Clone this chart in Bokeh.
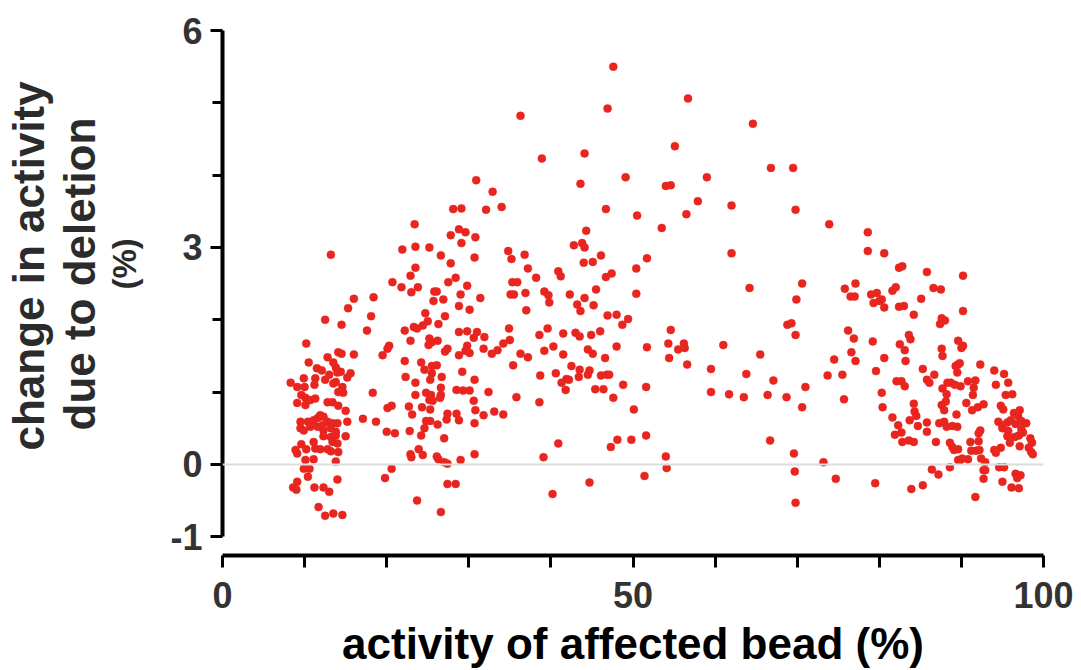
from bokeh.plotting import figure
from bokeh.models import Range1d, FixedTicker, Span, Title
from bokeh.embed import file_html
from bokeh.resources import INLINE

# activity of affected bead (%)
activity = [
    13.2, 16.0, 15.3, 12.5, 14.5, 10.2, 14.1, 14.5, 12.8, 16.0, 10.5, 13.5, 13.8, 11.5, 12.1, 14.0,
    14.4, 13.0, 15.6, 8.3, 9.9, 9.1, 10.0, 11.3, 11.2, 12.5, 13.8, 13.5, 15.2, 14.6, 14.1, 14.7,
    9.6, 10.1, 10.7, 11.3, 9.1, 10.1, 12.8, 13.4, 14.1, 15.0, 11.9, 12.3, 11.6, 9.5, 10.4, 11.1,
    12.8, 13.4, 14.0, 15.2, 9.5, 10.7, 9.9, 11.6, 12.2, 12.3, 13.2, 13.8, 12.3, 13.2, 13.8, 15.0,
    11.1, 13.4, 14.0, 9.6, 8.9, 10.2, 11.3, 11.9, 12.8, 13.2, 14.1, 9.1, 10.1, 11.1, 13.8, 9.9,
    10.6, 10.4, 14.0, 9.1, 8.6, 9.0, 11.2, 12.3, 13.0, 11.7, 12.5, 13.5, 14.6,
    28.1, 29.1, 23.4, 28.8, 29.6, 27.8, 29.1, 21.9, 23.5, 25.2, 26.6, 27.8, 23.5, 22.9, 28.4, 27.5,
    20.7, 21.8, 23.8, 23.0, 29.8, 25.8, 26.1, 29.0, 18.4, 25.7, 26.9, 28.8, 30.1, 24.7, 18.1, 27.1,
    25.0, 24.4, 26.3, 23.3, 23.7, 17.6, 22.2, 28.8, 29.8, 22.9, 25.2, 25.5, 26.2, 25.1, 29.8, 29.6,
    30.1, 20.3, 20.1, 27.4, 27.1, 19.5, 28.8, 22.2, 24.2, 24.6, 25.5, 26.1, 25.5, 25.3, 29.2, 22.3,
    26.7, 23.5, 26.6, 26.6, 26.5, 28.5, 29.3, 30.1, 24.8, 23.5, 18.3, 25.4, 25.2, 25.6, 20.1, 20.6,
    22.7, 24.3, 25.3, 23.1, 27.4, 27.3, 28.5, 28.8, 17.1, 18.7, 24.8, 25.3, 26.2, 24.6, 20.0, 21.0,
    22.8, 24.2, 27.0, 23.9, 22.9, 23.0, 24.4, 26.1, 26.3, 27.0, 27.4, 29.0, 20.6, 19.8, 27.4, 28.4,
    23.7, 26.6,
    36.3, 38.9, 44.1, 43.6, 30.9, 32.9, 32.1, 34.0, 30.8, 30.7, 44.3, 42.8, 43.8, 44.1, 44.0, 45.1,
    46.1, 34.8, 35.2, 36.8, 37.2, 38.2, 40.9, 41.2, 35.3, 35.9, 35.1, 35.5, 36.9, 39.2, 39.7, 39.8,
    42.3, 45.5, 44.1, 31.4, 37.0, 43.2, 43.6, 45.2, 30.6, 31.0, 31.9, 34.9, 35.0, 31.8, 32.8, 33.5,
    34.2, 38.6, 39.6, 41.5, 43.0, 43.5, 44.9, 46.0, 39.2, 40.3, 36.3, 37.2, 41.5, 44.5, 45.1, 46.6,
    35.4, 42.5, 43.5, 44.7, 38.7, 40.6, 43.4, 44.5, 46.1, 30.7, 41.9, 42.2, 41.3, 41.8, 45.4, 46.4,
    30.6, 32.4, 35.8, 38.6, 30.8, 31.8, 33.1, 34.2, 30.7, 40.9, 30.7, 39.1, 44.7, 40.2,
    47.6, 56.7, 46.9, 55.1, 49.1, 54.0, 54.6, 59.0, 46.7, 50.5, 53.5, 56.5, 57.9, 62.0, 62.0, 51.7,
    50.4, 46.7, 47.4, 50.4, 46.9, 48.0, 49.4, 48.7, 54.6, 48.0, 51.7, 54.3, 55.5, 56.2, 56.3, 61.0,
    54.4, 56.6, 59.5, 46.8, 47.1, 48.8, 51.6, 47.6, 59.5, 61.7, 50.1, 47.3, 48.1, 49.8, 51.6, 54.0,
    54.1, 51.4, 64.6,
    66.8, 69.5, 69.8, 73.9, 78.6, 78.6, 80.6, 64.2, 70.6, 69.9, 75.8, 77.1, 76.5, 77.0, 79.0, 79.7,
    79.3, 80.0, 80.3, 80.6, 68.8, 69.3, 69.8, 76.2, 76.9, 79.2, 65.5, 74.5, 76.6, 77.1, 80.6, 63.8,
    67.1, 73.7, 75.5, 79.6, 71.0, 63.5, 66.4, 68.7, 70.6, 75.7, 80.3, 80.4, 66.7, 69.6, 73.2, 69.7,
    74.7, 79.5, 69.8,
    82.4, 82.8, 85.8, 90.2, 81.6, 82.0, 86.6, 87.5, 82.4, 83.0, 85.1, 84.2, 90.2, 87.6, 88.0, 87.4,
    83.6, 83.8, 82.5, 83.1, 83.2, 89.6, 90.0, 90.2, 87.6, 87.7, 89.3, 89.6, 89.5, 89.8, 85.3, 86.7,
    82.1, 82.7, 83.1, 85.8, 86.1, 88.3, 88.7, 89.2, 89.9, 87.7, 88.2, 84.2, 87.6, 88.1, 87.9, 84.3,
    84.5, 89.4, 81.6, 83.7, 82.3, 84.7, 85.8, 87.3, 87.9, 88.2, 88.9, 89.5, 81.9, 82.7, 85.8, 82.8,
    83.6, 84.2, 86.9, 88.6, 88.9, 89.1, 89.6, 89.6, 89.8, 86.4, 88.6, 87.2, 83.9, 85.3,
    92.3, 94.0, 95.2, 90.8, 91.7, 91.5, 91.4, 94.2, 95.7, 95.4, 96.2, 90.6, 91.3, 92.0, 92.7, 94.8,
    95.1, 96.4, 97.1, 96.9, 94.5, 95.0, 95.6, 96.0, 96.6, 97.3, 97.9, 95.0, 95.7, 97.3, 97.5, 97.0,
    92.3, 92.1, 95.6, 96.5, 98.4, 98.6, 98.2, 98.5, 98.7, 91.1, 92.1, 91.2, 91.8, 92.2, 94.0, 94.2,
    94.8, 95.9, 97.1, 90.1, 90.8, 92.4, 92.9, 94.6, 95.2, 92.7, 92.9, 96.6, 97.2, 96.8, 92.7, 95.0,
    96.1, 97.0, 91.7,
]

# change in activity due to deletion (%)
change = [
    2.90, 2.29, 2.16, 2.00, 1.93, 1.67, 1.55, 1.53, 1.48, 1.52, 1.41, 1.41, 1.34, 1.33, 1.30, 1.27,
    1.28, 1.24, 1.26, 1.13, 1.19, 1.07, 1.07, 1.19, 1.10, 1.17, 1.14, 1.12, 1.20, 1.07, 1.00, 0.99,
    0.96, 0.92, 0.89, 0.91, 0.85, 0.82, 0.86, 0.86, 0.81, 0.74, 0.68, 0.66, 0.64, 0.59, 0.59, 0.61,
    0.59, 0.57, 0.57, 0.59, 0.50, 0.52, 0.47, 0.52, 0.54, 0.47, 0.50, 0.45, 0.39, 0.38, 0.40, 0.39,
    0.31, 0.31, 0.29, 0.28, 0.20, 0.21, 0.22, 0.21, 0.21, 0.18, 0.17, 0.15, 0.06, 0.07, 0.04, -0.06,
    -0.06, -0.17, -0.21, -0.24, -0.32, -0.35, -0.32, -0.32, -0.38, -0.59, -0.71, -0.68, -0.70,
    3.53, 3.54, 3.32, 3.25, 3.21, 3.17, 3.06, 2.97, 3.01, 3.00, 2.89, 2.78, 2.72, 2.61, 2.58, 2.52,
    2.52, 2.45, 2.45, 2.38, 2.47, 2.39, 2.39, 2.35, 2.31, 2.26, 2.28, 2.19, 2.14, 2.09, 2.05, 2.05,
    1.98, 1.92, 1.94, 1.90, 1.88, 1.85, 1.85, 1.83, 1.84, 1.71, 1.74, 1.69, 1.71, 1.65, 1.64, 1.57,
    1.54, 1.64, 1.60, 1.60, 1.56, 1.51, 1.51, 1.43, 1.41, 1.31, 1.36, 1.37, 1.26, 1.17, 1.28, 1.21,
    1.21, 1.13, 1.06, 0.96, 0.92, 1.03, 1.02, 1.02, 0.99, 0.96, 0.99, 0.96, 0.89, 0.88, 0.78, 0.81,
    0.80, 0.79, 0.76, 0.69, 0.70, 0.62, 0.70, 0.61, 0.63, 0.59, 0.60, 0.60, 0.55, 0.50, 0.45, 0.43,
    0.46, 0.40, 0.36, 0.21, 0.14, 0.10, 0.13, 0.11, 0.07, 0.03, 0.01, 0.06, -0.06, -0.19, -0.27, -0.27,
    -0.50, -0.66,
    4.82, 4.23, 4.30, 3.88, 3.93, 3.77, 3.52, 3.56, 3.14, 2.86, 3.23, 3.03, 3.06, 3.00, 2.79, 2.80,
    2.89, 2.95, 2.84, 2.90, 2.71, 2.58, 2.67, 2.60, 2.52, 2.52, 2.35, 2.35, 2.37, 2.39, 2.34, 2.24,
    2.35, 2.42, 2.30, 2.30, 2.13, 2.21, 2.12, 2.20, 1.75, 1.83, 1.76, 1.88, 1.72, 1.60, 1.53, 1.58,
    1.67, 1.79, 1.88, 1.81, 1.82, 1.77, 1.79, 1.84, 1.57, 1.63, 1.53, 1.48, 1.52, 1.59, 1.53, 1.47,
    1.37, 1.36, 1.31, 1.30, 1.23, 1.26, 1.21, 1.24, 1.23, 1.17, 1.18, 1.17, 1.13, 1.03, 1.04, 1.04,
    0.88, 1.00, 0.93, 0.86, 0.75, 0.68, 0.73, 0.69, 0.57, 0.29, 0.14, 0.10, -0.25, -0.41,
    5.50, 5.06, 4.92, 4.40, 3.97, 3.85, 3.86, 3.97, 3.53, 3.44, 3.27, 3.46, 3.64, 3.58, 2.92, 2.85,
    2.71, 2.59, 2.64, 2.36, 2.06, 2.07, 2.01, 1.93, 1.86, 1.63, 1.62, 1.67, 1.59, 1.67, 1.61, 1.65,
    1.47, 1.38, 1.32, 1.24, 1.24, 1.10, 1.07, 0.92, 1.00, 0.97, 0.76, 0.24, 0.34, 0.34, 0.40, 0.11,
    -0.05, -0.16, 4.71,
    4.10, 4.10, 3.52, 3.32, 3.21, 2.95, 2.92, 2.44, 2.50, 2.28, 2.43, 2.50, 2.32, 2.32, 2.35, 2.37,
    2.23, 2.26, 2.28, 2.17, 1.93, 1.95, 1.79, 1.85, 1.74, 1.70, 1.52, 1.45, 1.55, 1.43, 1.47, 1.25,
    1.16, 1.23, 1.24, 1.29, 1.07, 0.93, 0.96, 0.93, 0.79, 0.90, 0.99, 0.79, 0.33, 0.15, 0.03, -0.10,
    -0.20, -0.26, -0.53,
    2.72, 2.74, 2.66, 2.61, 2.40, 2.45, 2.44, 2.42, 2.18, 2.19, 2.29, 2.07, 2.12, 2.02, 1.99, 1.94,
    1.79, 1.73, 1.66, 1.58, 1.43, 1.71, 1.61, 1.64, 1.60, 1.50, 1.36, 1.38, 1.27, 1.40, 1.32, 1.24,
    1.15, 1.15, 1.08, 1.17, 1.13, 1.13, 1.13, 1.10, 1.08, 1.05, 0.97, 0.84, 0.82, 0.87, 0.75, 0.73,
    0.67, 0.69, 0.65, 0.61, 0.54, 0.53, 0.58, 0.57, 0.59, 0.52, 0.53, 0.52, 0.41, 0.44, 0.45, 0.31,
    0.33, 0.31, 0.31, 0.30, 0.24, 0.20, 0.21, 0.06, 0.05, -0.07, -0.04, -0.14, -0.34, -0.29,
    1.38, 1.30, 1.25, 1.15, 1.16, 1.06, 0.96, 1.10, 1.13, 0.96, 0.97, 0.85, 0.75, 0.79, 0.83, 0.81,
    0.76, 0.71, 0.75, 0.67, 0.59, 0.54, 0.58, 0.61, 0.56, 0.60, 0.57, 0.50, 0.46, 0.49, 0.44, 0.40,
    0.47, 0.43, 0.39, 0.38, 0.36, 0.30, 0.23, 0.17, 0.14, 0.31, 0.32, 0.19, 0.19, 0.20, 0.20, 0.16,
    0.23, 0.30, 0.25, 0.08, 0.07, 0.08, 0.03, -0.04, -0.04, -0.08, -0.08, -0.13, -0.15, -0.19, -0.20, -0.24,
    -0.32, -0.33, -0.45,
]

x_major = [0, 50, 100]
x_minor = [10, 20, 30, 40, 60, 70, 80, 90]
y_major = [-1, 0, 3, 6]
y_minor = [1, 2, 4, 5]
# y-title lines, from the axis outward
y_title_lines = ["(%)", "due to deletion", "change in activity"]
x_title = "activity of affected bead (%)"

FONT = "Liberation Sans"

p = figure(width=1081, height=670, output_backend="svg", toolbar_location=None,
           x_range=Range1d(0, 100), y_range=Range1d(-1.26, 6.0),
           min_border_left=222, min_border_right=38, min_border_top=30, min_border_bottom=115)
p.outline_line_color = None
p.grid.visible = False
p.background_fill_color = "white"
p.border_fill_color = "white"

p.add_layout(Span(location=0, dimension="width", line_color="#dcdcdc", line_width=2))

p.scatter(activity, change, size=8, fill_color="#e8251f", line_color="#e8251f", line_width=0.5)

xa = p.xaxis[0]
xa.ticker = FixedTicker(ticks=x_major, minor_ticks=x_minor)
xa.bounds = (0, 100)
xa.axis_line_width = 4
xa.axis_line_color = "black"
xa.major_tick_line_width = 3
xa.major_tick_out = 12
xa.major_tick_in = 0
xa.minor_tick_line_width = 3
xa.minor_tick_out = 12
xa.minor_tick_in = 0
xa.major_label_text_font = FONT
xa.major_label_text_font_style = "bold"
xa.major_label_text_font_size = "36px"
xa.major_label_text_color = "#333333"
xa.major_label_standoff = 14
xa.axis_label = x_title
xa.axis_label_text_font = FONT
xa.axis_label_text_font_style = "bold"
xa.axis_label_text_font_size = "44px"
xa.axis_label_text_color = "black"
xa.axis_label_standoff = 8

ya = p.yaxis[0]
ya.ticker = FixedTicker(ticks=y_major, minor_ticks=y_minor)
ya.bounds = (-1, 6)
ya.axis_line_width = 4
ya.axis_line_color = "black"
ya.major_tick_line_width = 3
ya.major_tick_out = 12
ya.major_tick_in = 0
ya.minor_tick_line_width = 3
ya.minor_tick_out = 10
ya.minor_tick_in = 0
ya.major_label_text_font = FONT
ya.major_label_text_font_style = "bold"
ya.major_label_text_font_size = "36px"
ya.major_label_text_color = "#333333"
ya.major_label_standoff = 8
ya.major_label_overrides = {-1: "-1"}
# blank spacer label to open a gap between tick labels and the title lines
ya.axis_label = " "
ya.axis_label_text_font_size = "1px"
ya.axis_label_standoff = 21

title_sizes = ["33px", "44px", "44px"]
title_offsets = [266, 125, 105]
for t, fs, off in zip(y_title_lines, title_sizes, title_offsets):
    p.add_layout(Title(text=t, align="left", offset=off, standoff=0,
                       text_font=FONT, text_font_style="bold", text_font_size=fs,
                       text_color="#2b2b2b"), "left")

open("out.html", "w").write(file_html(p, INLINE))
